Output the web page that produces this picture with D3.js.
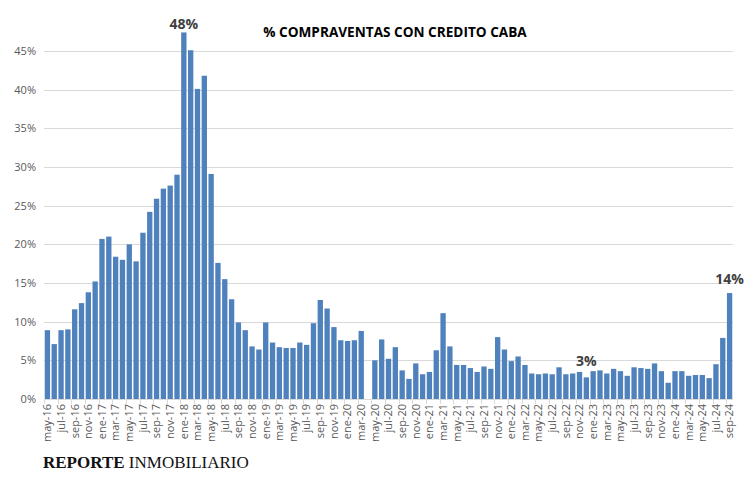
<!DOCTYPE html>
<html>
<head>
<meta charset="utf-8">
<script src="https://cdn.jsdelivr.net/npm/d3@7"></script>
<style>
  body { margin: 0; background: #fff; }
  svg { display: block; }
</style>
</head>
<body>
<svg id="chart"></svg>
<script>
const width = 748, height = 483;

// monthly periods, may-16 .. sep-24
const months = ["ene","feb","mar","abr","may","jun","jul","ago","sep","oct","nov","dic"];
const periods = [];
for (let y = 2016; y <= 2024; y++) {
  for (let m = 0; m < 12; m++) {
    if (y === 2016 && m < 4) continue;
    if (y === 2024 && m > 8) break;
    periods.push(months[m] + "-" + String(y).slice(2));
  }
}

// % of sales with mortgage credit (apr-20 no data)
const values = [
  8.9, 7.1, 8.9, 9.0, 11.6, 12.4, 13.8, 15.2,
  20.7, 21.0, 18.4, 18.0, 20.0, 17.8, 21.5, 24.2, 25.9, 27.2, 27.6, 29.0,
  47.4, 45.1, 40.1, 41.8, 29.1, 17.6, 15.5, 12.9, 9.9, 8.9, 6.8, 6.4,
  9.9, 7.3, 6.7, 6.6, 6.6, 7.3, 7.0, 9.8, 12.8, 11.7, 9.3, 7.6,
  7.5, 7.6, 8.8, null, 5.0, 7.7, 5.2, 6.7, 3.7, 2.6, 4.6, 3.2,
  3.5, 6.3, 11.1, 6.8, 4.4, 4.4, 4.0, 3.5, 4.2, 3.9, 8.0, 6.4,
  4.9, 5.5, 4.4, 3.3, 3.2, 3.3, 3.2, 4.1, 3.2, 3.3, 3.5, 2.8,
  3.6, 3.7, 3.3, 3.9, 3.6, 3.0, 4.1, 4.0, 3.9, 4.6, 3.6, 2.1,
  3.6, 3.6, 3.0, 3.1, 3.1, 2.7, 4.5, 7.9, 13.7
];

const yTicks = [0, 5, 10, 15, 20, 25, 30, 35, 40, 45];
const highlights = [
  { period: "ene-18", label: "48%" },
  { period: "dic-22", label: "3%" },
  { period: "sep-24", label: "14%" }
];

const data = periods.map((p, i) => ({ period: p, value: values[i] }));

const svg = d3.select("#chart").attr("width", width).attr("height", height);

const left = 44, right = 733;
const x = d3.scaleBand()
  .domain(periods)
  .range([left, right])
  .paddingInner(0.22)
  .paddingOuter(0.11);

const y = d3.scaleLinear()
  .domain([0, 45])
  .range([399, 51]);

// grid
svg.append("g")
  .selectAll("line")
  .data(yTicks)
  .join("line")
  .attr("x1", left)
  .attr("x2", right)
  .attr("y1", d => Math.round(y(d)) + 0.5)
  .attr("y2", d => Math.round(y(d)) + 0.5)
  .attr("stroke", "#d9d9d9")
  .attr("stroke-width", 1);

// y labels
svg.append("g")
  .selectAll("text")
  .data(yTicks)
  .join("text")
  .attr("x", left - 8)
  .attr("y", d => y(d) + 4)
  .attr("text-anchor", "end")
  .attr("font-family", "Open Sans, sans-serif")
  .attr("font-size", 11)
  .attr("fill", "#595959")
  .text(d => d + "%");

// bars
svg.append("g")
  .selectAll("rect")
  .data(data.filter(d => d.value != null))
  .join("rect")
  .attr("x", d => x(d.period))
  .attr("y", d => y(d.value))
  .attr("width", x.bandwidth())
  .attr("height", d => y(0) - y(d.value))
  .attr("fill", "#4f81bd");

// x axis
const step = x.step();
const xAxis = d3.axisBottom(x)
  .tickValues(periods.filter((p, i) => i % 2 === 0))
  .tickSize(0)
  .tickPadding(0);

const gx = svg.append("g")
  .attr("transform", `translate(0,${y(0)})`)
  .call(xAxis);
gx.select(".domain").attr("stroke", "#d9d9d9").attr("d", `M${left},0.5H${right}`);
gx.selectAll(".tick text")
  .attr("font-family", "Open Sans, sans-serif")
  .attr("font-size", 11)
  .attr("fill", "#595959")
  .attr("transform", "rotate(-90)")
  .attr("text-anchor", "end")
  .attr("x", -5)
  .attr("y", 0)
  .attr("dy", "0.35em");

// tick marks at category boundaries, every 2 categories
svg.append("g")
  .selectAll("line")
  .data(periods.filter((p, i) => i % 2 === 0))
  .join("line")
  .attr("x1", d => Math.round(x(d) - step * x.paddingInner() / 2) + 0.5)
  .attr("x2", d => Math.round(x(d) - step * x.paddingInner() / 2) + 0.5)
  .attr("y1", y(0))
  .attr("y2", y(0) + 5)
  .attr("stroke", "#d9d9d9");

// highlight labels (gap above bar as placed in the source chart)
const labelGap = { "ene-18": 3, "dic-22": 11, "sep-24": 9 };
svg.append("g")
  .selectAll("text")
  .data(highlights)
  .join("text")
  .attr("x", d => x(d.period) + x.bandwidth() / 2)
  .attr("y", d => {
    const v = data.find(e => e.period === d.period).value;
    return y(v) - labelGap[d.period];
  })
  .attr("text-anchor", "middle")
  .attr("font-family", "Open Sans, sans-serif")
  .attr("font-weight", "bold")
  .attr("font-size", 14)
  .attr("fill", "#404040")
  .text(d => d.label);

// title
svg.append("text")
  .attr("x", 395)
  .attr("y", 37)
  .attr("text-anchor", "middle")
  .attr("font-family", "Open Sans, sans-serif")
  .attr("font-weight", "bold")
  .attr("font-size", 13.6)
  .attr("fill", "#000")
  .text("% COMPRAVENTAS CON CREDITO CABA");

// brand
const brand = svg.append("text")
  .attr("x", 43)
  .attr("y", 468)
  .attr("font-family", "Liberation Serif, serif")
  .attr("font-size", 17)
  .attr("fill", "#111");
brand.append("tspan").attr("font-weight", "bold").text("REPORTE");
brand.append("tspan").text(" INMOBILIARIO");
</script>
</body>
</html>
